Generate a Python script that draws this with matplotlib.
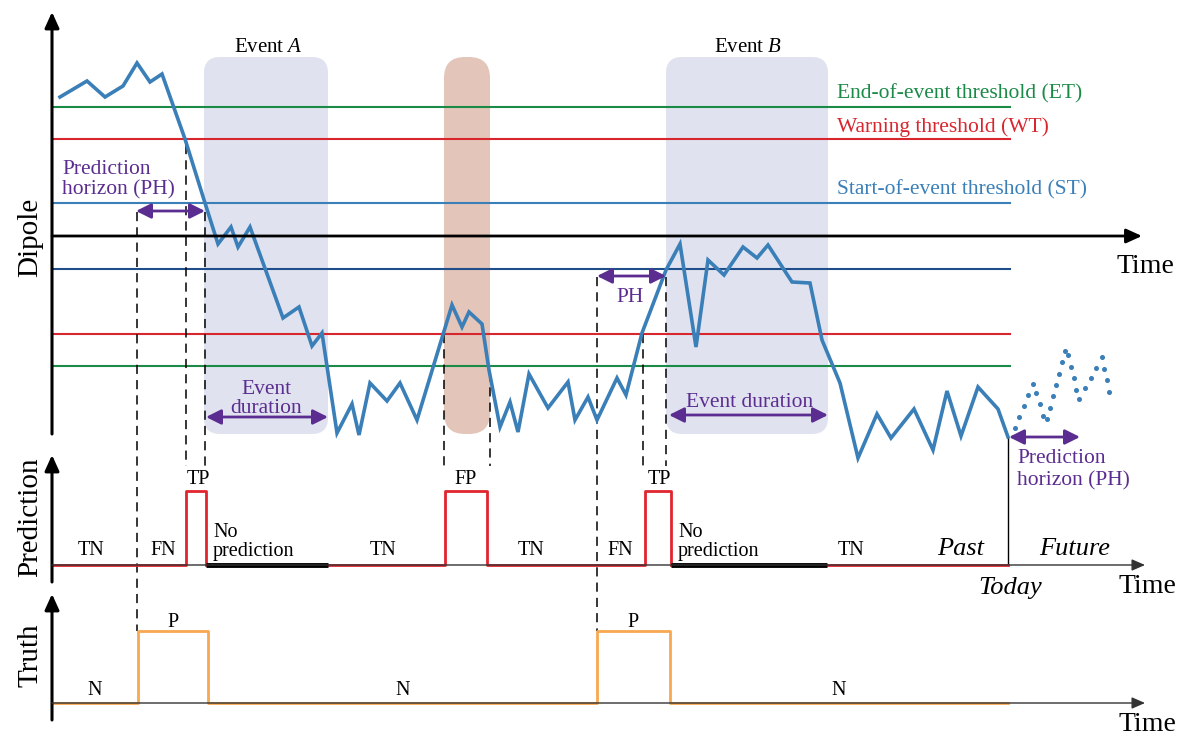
import numpy as np
import matplotlib
matplotlib.use('Agg')
import matplotlib.pyplot as plt
from matplotlib.patches import FancyBboxPatch

plt.rcParams['font.family'] = ['Liberation Serif', 'DejaVu Serif']
plt.rcParams['mathtext.fontset'] = 'custom'
plt.rcParams['mathtext.rm'] = 'Liberation Serif'
plt.rcParams['mathtext.it'] = 'Liberation Serif:italic'

# dipole trace (time, value), in picture units
dipole_t = [60, 87, 105, 123, 137, 150, 162, 185, 205, 218, 231, 238, 250, 283, 299, 312, 322,
            337, 352, 359, 370, 387, 400, 417, 452, 462, 469, 482, 489, 500, 510, 518, 529, 548,
            568, 575, 588, 597, 617, 626, 642, 666, 680, 696, 708, 724, 743, 757, 768, 792, 810,
            822, 840, 858, 877, 891, 914, 933, 947, 961, 978, 998, 1008]
dipole_v = [97, 81, 97, 86, 63, 82, 74, 139, 203, 244, 227, 247, 227, 318, 307, 346, 333,
            433, 404, 435, 383, 401, 383, 420, 305, 327, 312, 324, 370, 427, 402, 432, 374, 408,
            382, 420, 397, 420, 378, 395, 333, 270, 244, 347, 260, 275, 247, 258, 245, 282, 283,
            340, 383, 458, 414, 438, 409, 450, 391, 436, 387, 409, 437]

# forecast dots after "today"
future_t = [1015, 1019, 1024, 1028, 1033, 1036, 1040, 1043, 1047, 1050, 1053, 1056, 1059, 1062,
            1065, 1068, 1071, 1074, 1076, 1079, 1085, 1091, 1096, 1102, 1104, 1107, 1109]
future_v = [428, 417, 406, 395, 384, 393, 404, 416, 419, 408, 396, 385, 374, 362,
            351, 355, 367, 378, 390, 399, 388, 378, 368, 357, 369, 380, 392]

# thresholds
thr_upper = [107, 139, 203]
thr_lower = [366, 334, 269]
thr_labels = ['End-of-event threshold (ET)', 'Warning threshold (WT)', 'Start-of-event threshold (ST)']
thr_colors = ['#1b8a47', '#d8262e', '#3a7fb8']
thr_lower_colors = ['#1b8a47', '#d8262e', '#1f4e8a']

# prediction: segment edges and states (1 = event predicted, 0 = none, nan = no prediction)
pred_edges = [52, 186, 206, 328, 445, 487, 645, 671, 827, 1008]
pred_vals = [0, 1, np.nan, 0, 1, 0, 1, np.nan, 0]
pred_labels = ['TN', 'FN', 'TN', 'TN', 'FN', 'TN']
pred_label_t = [91, 163, 383, 531, 620, 851]

# truth
truth_edges = [52, 138, 208, 597, 670, 1008]
truth_vals = [0, 1, 0, 1, 0]
truth_labels = ['N', 'P', 'N', 'P', 'N']

purple = '#5b2d90'
blue = '#3a7fb8'

fig = plt.figure(figsize=(11.78, 7.37), dpi=100)
ax = fig.add_axes([0, 0, 1, 1])
ax.set_xlim(0, 1178)
ax.set_ylim(737, 0)
ax.axis('off')

# shaded event boxes
for x0, x1, col, r in [(204, 328, '#e0e3ef', 16), (444, 490, '#e3c5b9', 21), (666, 828, '#e0e3ef', 16)]:
    ax.add_patch(FancyBboxPatch((x0, 57), x1 - x0, 377,
                                boxstyle='round,pad=0,rounding_size=%d' % r,
                                fc=col, ec='none', zorder=0))
ax.text(268, 52, 'Event $A$', fontsize=15, ha='center', va='baseline')
ax.text(748, 52, 'Event $B$', fontsize=15, ha='center', va='baseline')

# thresholds
for y, c in zip(thr_upper, thr_colors):
    ax.plot([53, 1010], [y, y], color=c, lw=1.5, zorder=1)
for y, c in zip(thr_lower, thr_lower_colors):
    ax.plot([53, 1010], [y, y], color=c, lw=1.5, zorder=1)
for y, c, lab in zip([98, 132, 194], thr_colors, thr_labels):
    ax.text(837, y, lab, color=c, fontsize=15.5, va='baseline')

def arrow(p0, p1, style, lw, color, ms=10):
    ax.annotate('', xy=p1, xytext=p0,
                arrowprops=dict(arrowstyle=style, lw=lw, color=color,
                                shrinkA=0, shrinkB=0, mutation_scale=ms), zorder=5)

big_head = '-|>,head_length=0.95,head_width=0.43'
small_head = '-|>,head_length=0.8,head_width=0.35'
dbl = '<|-|>,head_length=0.9,head_width=0.45'

# dipole axes
arrow((52, 434), (52, 12), big_head, 2.2, 'black')
arrow((52, 236), (1142, 236), big_head, 2.0, 'black')
ax.text(1145, 273, 'Time', fontsize=20, ha='center', va='baseline')
ax.text(30, 237, 'Dipole', fontsize=21, rotation=90, ha='center', va='center')

# dashed guides
dashes = [(137, 212, 631), (186, 145, 466), (205, 212, 466), (444, 334, 466), (490, 372, 466),
          (597, 277, 631), (643, 334, 466), (666, 277, 466)]
for x, y0, y1 in dashes:
    ax.plot([x, x], [y0, y1], color='black', lw=1.1, ls=(0, (6, 4)), zorder=2)

# dipole curve and forecast
ax.plot(dipole_t, dipole_v, color=blue, lw=2.6, solid_joinstyle='miter', zorder=4)
ax.plot(future_t, future_v, ls='none', marker='o', ms=2.6, color=blue, zorder=4)
ax.plot([1008, 1008], [437, 565], color='black', lw=1.0, zorder=3)

# purple annotations
arrow((136, 211), (205, 211), dbl, 2.0, purple)
ax.text(62, 174, 'Prediction', color=purple, fontsize=15.5, va='baseline')
ax.text(62, 194, 'horizon (PH)', color=purple, fontsize=15.5, va='baseline')
arrow((206, 417), (328, 417), dbl, 2.0, purple)
ax.text(266, 394, 'Event', color=purple, fontsize=15.5, ha='center', va='baseline')
ax.text(266, 413, 'duration', color=purple, fontsize=15.5, ha='center', va='baseline')
arrow((597, 276), (666, 276), dbl, 2.0, purple)
ax.text(630, 302, 'PH', color=purple, fontsize=15.5, ha='center', va='baseline')
arrow((669, 415), (828, 415), dbl, 2.0, purple)
ax.text(750, 407, 'Event duration', color=purple, fontsize=15.5, ha='center', va='baseline')
arrow((1009, 437), (1080, 437), dbl, 2.0, purple)
ax.text(1017, 463, 'Prediction', color=purple, fontsize=15.5, va='baseline')
ax.text(1017, 485, 'horizon (PH)', color=purple, fontsize=15.5, va='baseline')

def step_path(edges, vals, base, high):
    xs, ys = [], []
    for i, v in enumerate(vals):
        x0, x1 = edges[i], edges[i + 1]
        if np.isnan(v):
            xs.append(np.nan); ys.append(np.nan)
            continue
        if v:
            xs += [x0, x0, x1, x1]; ys += [base, high, high, base]
        else:
            xs += [x0, x1]; ys += [base, base]
    return xs, ys

# prediction panel
pb, ph = 565, 491
arrow((52, 582), (52, 455), big_head, 2.2, 'black')
arrow((52, pb), (1145, pb), small_head, 1.0, '#333333')
xs, ys = step_path(pred_edges, pred_vals, pb, ph)
ax.plot(xs, ys, color='#e0252f', lw=2.0, zorder=4)
for i, v in enumerate(pred_vals):
    if np.isnan(v):
        ax.plot([pred_edges[i], pred_edges[i + 1]], [pb, pb], color='black', lw=3.5,
                solid_capstyle='butt', zorder=4)
        ax.text(pred_edges[i] + 7, 537, 'No', fontsize=14.5, va='baseline')
        ax.text(pred_edges[i] + 7, 556, 'prediction', fontsize=14.5, va='baseline')
for lab, x in zip(pred_labels, pred_label_t):
    ax.text(x, 555, lab, fontsize=14.5, ha='center', va='baseline')
ax.text(198, 484, 'TP', fontsize=14.5, ha='center', va='baseline')
ax.text(466, 484, 'FP', fontsize=14.5, ha='center', va='baseline')
ax.text(659, 484, 'TP', fontsize=14.5, ha='center', va='baseline')
ax.text(961, 555, 'Past', fontsize=19, style='italic', ha='center', va='baseline')
ax.text(1075, 555, 'Future', fontsize=19, style='italic', ha='center', va='baseline')
ax.text(1010, 594, 'Today', fontsize=19, style='italic', ha='center', va='baseline')
ax.text(1147, 593, 'Time', fontsize=20, ha='center', va='baseline')
ax.text(30, 517, 'Prediction', fontsize=21, rotation=90, ha='center', va='center')

# truth panel
tb, th = 703, 631
arrow((52, 720), (52, 594), big_head, 2.2, 'black')
arrow((52, tb), (1145, tb), small_head, 1.0, '#333333')
xs, ys = step_path(truth_edges, truth_vals, tb, th)
ax.plot(xs, ys, color='#f8a851', lw=2.0, zorder=4)
for i, lab in enumerate(truth_labels):
    xm = (truth_edges[i] + truth_edges[i + 1]) / 2
    y = 627 if truth_vals[i] else 695
    ax.text(xm, y, lab, fontsize=14.5, ha='center', va='baseline')
ax.text(1147, 731, 'Time', fontsize=20, ha='center', va='baseline')
ax.text(30, 655, 'Truth', fontsize=21, rotation=90, ha='center', va='center')

fig.savefig('out.png', dpi=100)
